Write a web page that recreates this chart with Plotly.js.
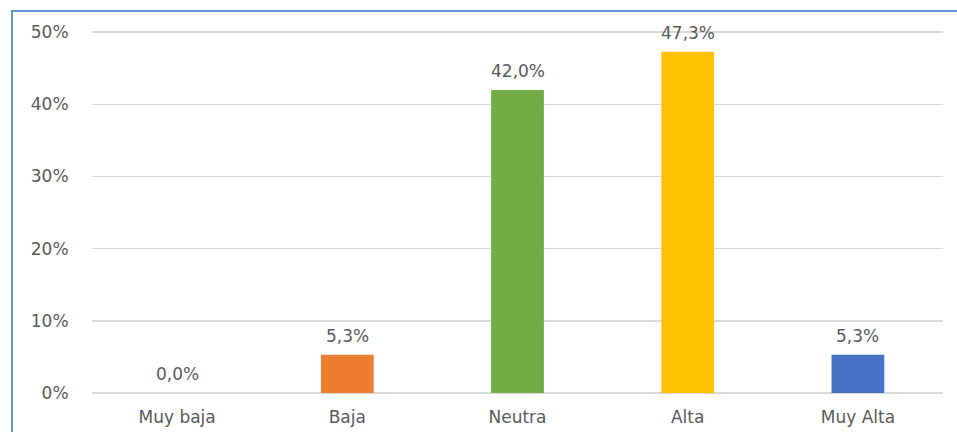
<!DOCTYPE html>
<html>
<head>
<meta charset="utf-8">
<script src="https://cdn.plot.ly/plotly-3.0.1.min.js"></script>
<style>
html,body{margin:0;padding:0;background:#fff;}
#wrap{position:relative;width:957px;height:432px;overflow:hidden;}
#chart{position:absolute;left:0;top:0;width:957px;height:432px;}
#frame{position:absolute;left:11px;top:10px;width:1000px;height:500px;border-left:2px solid #5B9BD5;border-top:2px solid #5B9BD5;pointer-events:none;}
</style>
</head>
<body>
<div id="wrap"><div id="chart"></div><div id="frame"></div></div>
<script>
const categories = ["Muy baja", "Baja", "Neutra", "Alta", "Muy Alta"];
const values = [0.0, 0.053, 0.420, 0.473, 0.053];
const barColors = ["#A5A5A5", "#ED7D31", "#70AD47", "#FFC000", "#4472C4"];
const yTickVals = [0, 0.1, 0.2, 0.3, 0.4, 0.5];
const yTickText = ["0%", "10%", "20%", "30%", "40%", "50%"];

const fmt = v => (v * 100).toFixed(1).replace('.', ',') + '%';
const font = {family: "DejaVu Sans, Verdana, sans-serif", size: 17, color: "#595959"};

const trace = {
  type: "bar",
  x: categories,
  y: values,
  marker: {color: barColors},
  hoverinfo: "skip"
};

const annotations = categories.map((c, i) => ({
  x: c, y: values[i], xref: "x", yref: "y",
  text: fmt(values[i]), showarrow: false,
  yanchor: "bottom", yshift: 7,
  font: font
}));

const layout = {
  width: 957, height: 432,
  margin: {l: 92, r: 14, t: 30, b: 39},
  paper_bgcolor: "#fff", plot_bgcolor: "#fff",
  bargap: 0.69,
  showlegend: false,
  font: font,
  separators: ",.",
  xaxis: {
    type: "category",
    tickfont: font,
    showgrid: false, zeroline: false, showline: false,
    ticks: "outside", ticklen: 9, tickcolor: "rgba(0,0,0,0)"
  },
  yaxis: {
    range: [0, 0.503],
    tickvals: yTickVals, ticktext: yTickText,
    tickfont: font,
    showgrid: true, gridcolor: "#D9D9D9", gridwidth: 1.5,
    zeroline: true, zerolinecolor: "#D9D9D9", zerolinewidth: 1.5,
    showline: false,
    ticks: "outside", ticklen: 19, tickcolor: "rgba(0,0,0,0)"
  },
  annotations: annotations
};

Plotly.newPlot("chart", [trace], layout, {displayModeBar: false, staticPlot: true});
</script>
</body>
</html>
